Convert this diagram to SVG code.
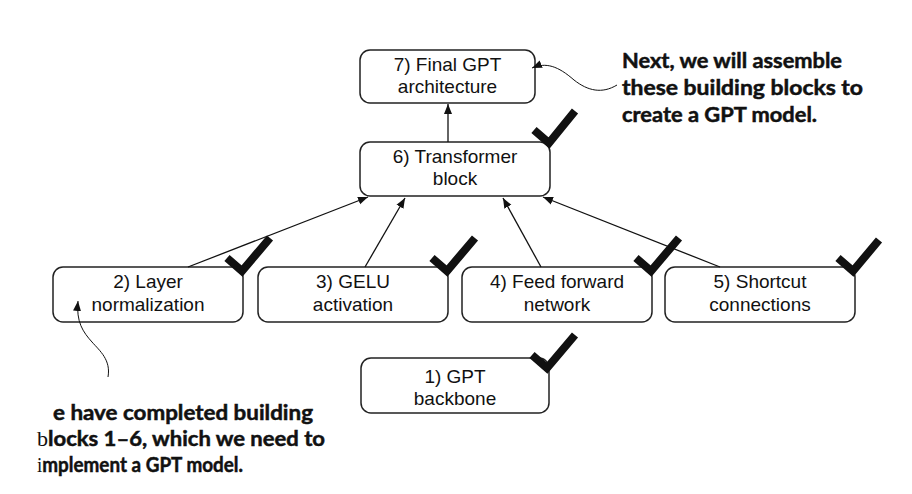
<svg xmlns="http://www.w3.org/2000/svg" width="912" height="494" viewBox="0 0 912 494">
<style>
.box{fill:#fff;stroke:#222;stroke-width:1.5}
.lbl{font-family:"Liberation Sans",Arial,sans-serif;font-size:19px;fill:#111;text-anchor:middle}
.conn{stroke:#111;stroke-width:1.3;fill:none}
.curly{stroke:#111;stroke-width:1;fill:none}
.check{stroke:#111;stroke-width:8;fill:none;stroke-linejoin:miter;stroke-linecap:butt}
.note{font-family:Lato,"Open Sans",sans-serif;font-weight:700;font-size:21px;fill:#111;stroke:#111;stroke-width:0.5}
.serif{font-family:"Liberation Serif",serif;font-weight:400;stroke:none}
</style>
<defs>
<marker id="ah" viewBox="0 0 10 10" refX="10" refY="5" markerWidth="10" markerHeight="10" markerUnits="userSpaceOnUse" orient="auto">
<path d="M0,1 L10,5 L0,9 z" fill="#111"/>
</marker>
</defs>
<g id="node7">
<rect class="box" x="360" y="50" width="175" height="53" rx="10"/>
<text class="lbl" x="447.5" y="71">7) Final GPT</text>
<text class="lbl" x="447.5" y="93">architecture</text>
</g>
<g id="node6">
<rect class="box" x="360" y="142" width="190" height="54" rx="10"/>
<text class="lbl" x="455" y="163">6) Transformer</text>
<text class="lbl" x="455" y="185">block</text>
<path class="check" d="M534,130 L549,143 L575,111"/>
</g>
<g id="node2">
<rect class="box" x="53" y="267" width="190" height="55" rx="10"/>
<text class="lbl" x="148" y="288">2) Layer</text>
<text class="lbl" x="148" y="311">normalization</text>
<path class="check" d="M227,258 L242,271 L270,238"/>
</g>
<g id="node3">
<rect class="box" x="258" y="267" width="190" height="55" rx="10"/>
<text class="lbl" x="353" y="288">3) GELU</text>
<text class="lbl" x="353" y="311">activation</text>
<path class="check" d="M432,258 L447,271 L475,238"/>
</g>
<g id="node4">
<rect class="box" x="462" y="267" width="190" height="55" rx="10"/>
<text class="lbl" x="557" y="288">4) Feed forward</text>
<text class="lbl" x="557" y="311">network</text>
<path class="check" d="M636,258 L651,271 L679,238"/>
</g>
<g id="node5">
<rect class="box" x="665" y="267" width="190" height="55" rx="10"/>
<text class="lbl" x="760" y="288">5) Shortcut</text>
<text class="lbl" x="760" y="311">connections</text>
<path class="check" d="M838,258 L853,271 L879,240"/>
</g>
<g id="node1">
<rect class="box" x="361" y="358" width="188" height="55" rx="10"/>
<text class="lbl" x="455" y="383">1) GPT</text>
<text class="lbl" x="455" y="405">backbone</text>
<path class="check" d="M532,355 L547,368 L575,335"/>
</g>
<g id="connectors">
<line class="conn" x1="448" y1="142" x2="448" y2="104" marker-end="url(#ah)"/>
<line class="conn" x1="188" y1="267" x2="368" y2="197" marker-end="url(#ah)"/>
<line class="conn" x1="365" y1="267" x2="405" y2="198" marker-end="url(#ah)"/>
<line class="conn" x1="541" y1="267" x2="503" y2="198" marker-end="url(#ah)"/>
<line class="conn" x1="720" y1="267" x2="543" y2="197" marker-end="url(#ah)"/>
<path class="curly" d="M617,85 C602,94 588,91 574,80 C558,66 546,62 532,68" marker-end="url(#ah)"/>
<path class="curly" d="M108,377 C111,360 100,351 92,342 C83,332 76,322 78,301" marker-end="url(#ah)"/>
</g>
<g id="note-top">
<text class="note" x="622" y="68" textLength="220" lengthAdjust="spacingAndGlyphs">Next, we will assemble</text>
<text class="note" x="622" y="95" textLength="241" lengthAdjust="spacingAndGlyphs">these building blocks to</text>
<text class="note" x="622" y="122" textLength="195" lengthAdjust="spacingAndGlyphs">create a GPT model.</text>
</g>
<g id="note-bottom">
<text class="note" x="53" y="420" textLength="260" lengthAdjust="spacingAndGlyphs">e have completed building</text>
<text class="note" x="37" y="446" textLength="288" lengthAdjust="spacingAndGlyphs"><tspan class="serif">b</tspan><tspan>locks 1–6, which we need to</tspan></text>
<text class="note" x="37" y="472" textLength="206" lengthAdjust="spacingAndGlyphs"><tspan class="serif">i</tspan><tspan>mplement a GPT model.</tspan></text>
</g>
</svg>
